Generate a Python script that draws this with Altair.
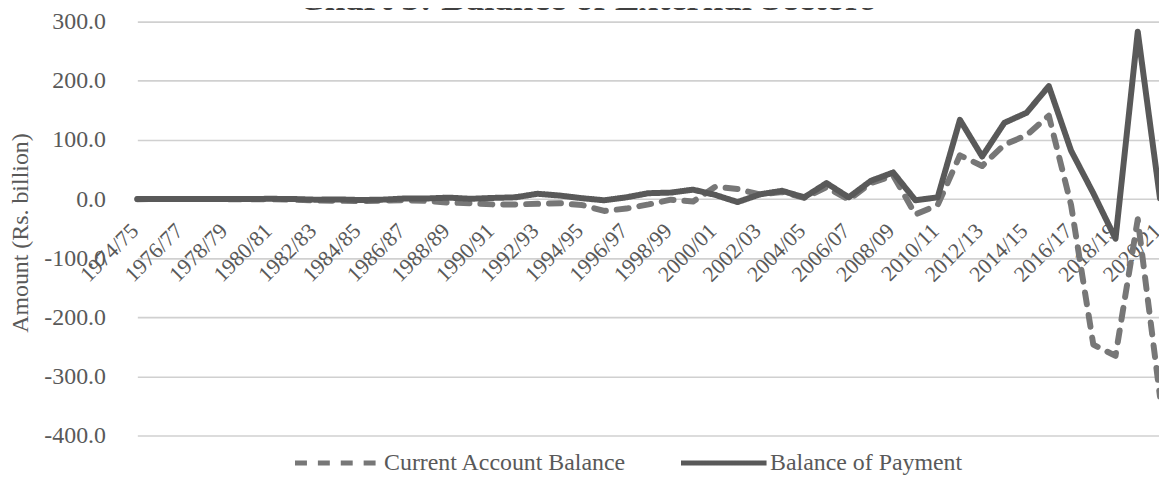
import altair as alt
import pandas as pd

years = [
    "1974/75", "1975/76", "1976/77", "1977/78", "1978/79", "1979/80", "1980/81",
    "1981/82", "1982/83", "1983/84", "1984/85", "1985/86", "1986/87", "1987/88",
    "1988/89", "1989/90", "1990/91", "1991/92", "1992/93", "1993/94", "1994/95",
    "1995/96", "1996/97", "1997/98", "1998/99", "1999/00", "2000/01", "2001/02",
    "2002/03", "2003/04", "2004/05", "2005/06", "2006/07", "2007/08", "2008/09",
    "2009/10", "2010/11", "2011/12", "2012/13", "2013/14", "2014/15", "2015/16",
    "2016/17", "2017/18", "2018/19", "2019/20", "2020/21",
]

current_account = [
    -0.1, 0.0, 0.1, 0.0, -0.1, -0.3, -0.4,
    -0.8, -2.5, -2.8, -3.5, -2.5, -2.0, -3.0,
    -6.0, -7.0, -9.0, -9.0, -8.0, -7.0, -10.0,
    -20.0, -16.0, -9.0, -1.0, -4.0, 21.0, 17.0,
    8.0, 12.0, 2.0, 20.0, -1.0, 27.0, 40.0,
    -26.0, -10.0, 74.0, 56.0, 92.0, 108.0, 141.0,
    -10.0, -246.0, -265.0, -34.0, -334.0,
]

balance_of_payment = [
    0.0, 0.2, 0.3, 0.2, 0.3, 0.2, 0.5,
    0.2, -1.0, -0.5, -1.5, -1.0, 1.0, 1.0,
    2.5, 0.5, 2.0, 3.0, 9.0, 6.0, 1.5,
    -2.0, 3.0, 10.0, 11.0, 16.0, 7.0, -5.0,
    8.0, 14.0, 3.0, 27.0, 3.0, 31.0, 45.0,
    -2.0, 3.0, 134.0, 72.0, 129.0, 146.0, 191.0,
    82.0, 10.0, -67.0, 283.0, 1.2,
]

series_names = ["Current Account Balance", "Balance of Payment"]
x_label_values = years[::2]
y_tick_values = [-400, -300, -200, -100, 0, 100, 200, 300]

rows = []
for name, vals in zip(series_names, [current_account, balance_of_payment]):
    for i, (yr, v) in enumerate(zip(years, vals)):
        rows.append({"year": yr, "value": v, "series": name, "idx": i})
df = pd.DataFrame(rows)

FONT = "Liberation Serif"
TXT = "#595959"

legend = alt.Legend(
    title=None,
    orient="none",
    legendX=167,
    legendY=398,
    direction="horizontal",
    symbolType="stroke",
    symbolSize=7396,
    symbolStrokeWidth=5,
    labelFont=FONT,
    labelFontSize=24,
    labelColor=TXT,
    labelOffset=1,
    columnPadding=44,
    padding=0,
    labelLimit=500,
)

chart = (
    alt.Chart(df)
    .mark_line(strokeWidth=6, strokeCap="round", strokeJoin="round")
    .encode(
        x=alt.X(
            "year:O",
            sort=years,
            scale=alt.Scale(type="point", range=[11, 1039], padding=0),
            axis=alt.Axis(
                values=x_label_values,
                orient="bottom",
                offset=-238,
                labelAngle=315,
                labelAlign="right",
                labelBaseline="middle",
                labelPadding=28,
                labelOffset=-3,
                ticks=False,
                tickSize=0,
                domain=False,
                grid=False,
                title=None,
                labelFont=FONT,
                labelFontSize=22,
                labelColor=TXT,
                labelOverlap=False,
                labelBound=False,
            ),
        ),
        y=alt.Y(
            "value:Q",
            scale=alt.Scale(domain=[-400, 300], nice=False, zero=False),
            axis=alt.Axis(
                values=y_tick_values,
                labelExpr="datum.value + '.0'",
                ticks=False,
                tickSize=0,
                domain=False,
                grid=True,
                gridColor="#d0d0d0",
                gridWidth=1.6,
                labelPadding=21,
                labelFont=FONT,
                labelFontSize=24,
                labelColor=TXT,
                title="Amount (Rs. billion)",
                titleFont=FONT,
                titleFontSize=24,
                titleFontWeight="normal",
                titleColor=TXT,
                titleAngle=270,
                titleAlign="center",
                titleBaseline="alphabetic",
                titleX=-99,
                titleY=212,
            ),
        ),
        color=alt.Color(
            "series:N",
            scale=alt.Scale(domain=series_names, range=["#777777", "#595959"]),
            legend=legend,
        ),
        strokeDash=alt.StrokeDash(
            "series:N",
            scale=alt.Scale(domain=series_names, range=[[12, 11], [1, 0]]),
            legend=legend,
        ),
        order="idx:Q",
    )
    .properties(
        width=1038,
        height=416.2,
        autosize=alt.AutoSizeParams(type="none"),
        padding={"left": 119, "top": 12.5, "right": 0, "bottom": 45},
        title=alt.TitleParams(
            "Chart 3: Balance of External Sectors",
            font=FONT,
            fontSize=37,
            fontWeight="bold",
            color="#404040",
            anchor="middle",
            frame="bounds",
            offset=-4,
            dy=4,
        ),
    )
    .configure_view(stroke=None)
)

chart.save("out.html", embed_options={"renderer": "svg", "actions": False})
